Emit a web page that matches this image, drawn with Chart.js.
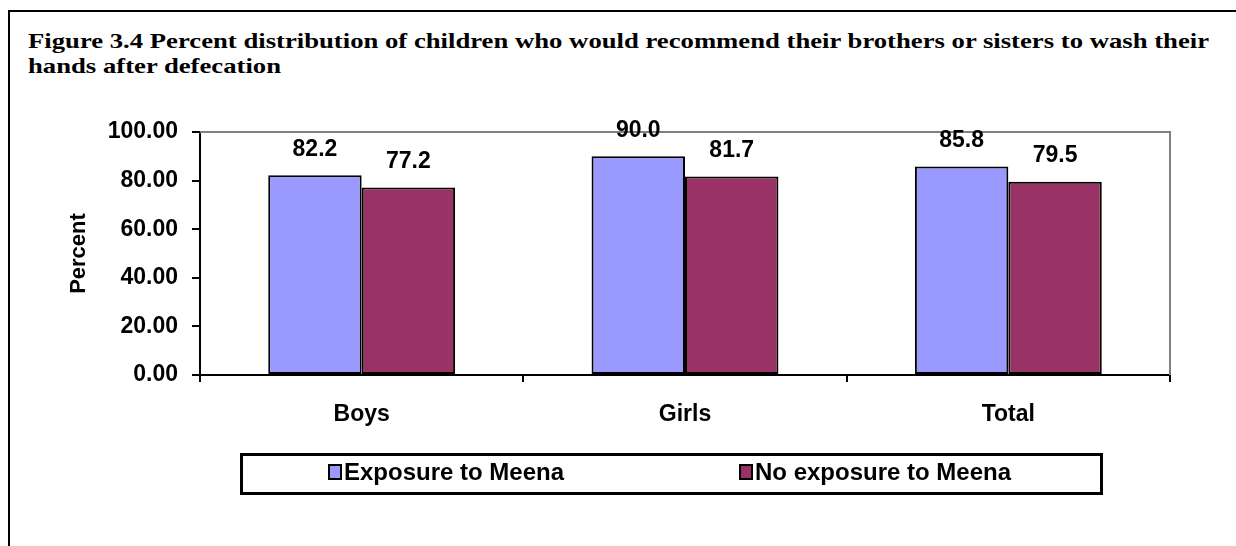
<!DOCTYPE html>
<html>
<head>
<meta charset="utf-8">
<script src="https://cdn.jsdelivr.net/npm/chart.js@4.4.1/dist/chart.umd.min.js"></script>
<style>
  html, body { margin: 0; padding: 0; background: #fff; }
  #wrap { position: relative; width: 1236px; height: 546px; overflow: hidden; }
  #frame { position: absolute; left: 8px; top: 10px; width: 1240px; height: 560px;
           border-left: 2px solid #000; border-top: 2px solid #000; }
  #title { position: absolute; left: 28px; top: 28px;
           font: bold 22px "Liberation Serif", "Times New Roman", serif; line-height: 25px; color: #000;
           white-space: nowrap; transform-origin: 0 0; }
  #myChart { position: absolute; left: 0; top: 0; }
</style>
</head>
<body>
<div id="wrap">
  <div id="frame"></div>
  <div id="title"><span id="t1">Figure 3.4 Percent distribution of children who would recommend their brothers or sisters to wash their</span><br>hands after defecation</div>
  <canvas id="myChart" width="1236" height="546"></canvas>
</div>
<script>
const categories = ['Boys', 'Girls', 'Total'];
const exposure = [82.2, 90.0, 85.8];
const noExposure = [77.2, 81.7, 79.5];
const yTicks = [0, 20, 40, 60, 80, 100];

// stretch the title to the width it has in the original figure
const t1 = document.getElementById('t1');
document.getElementById('title').style.transform = 'scaleX(' + (1181 / t1.getBoundingClientRect().width) + ')';

const sans = '"Liberation Sans", Arial, sans-serif';
const labelFont = 'bold 23px ' + sans;
const legendFont = 'bold 24px ' + sans;

// value labels above each bar
const valueLabels = {
  id: 'valueLabels',
  afterDatasetsDraw(chart) {
    const ctx = chart.ctx;
    ctx.save();
    ctx.font = labelFont;
    ctx.fillStyle = '#000';
    ctx.textAlign = 'center';
    ctx.textBaseline = 'middle';
    chart.data.datasets.forEach((ds, i) => {
      chart.getDatasetMeta(i).data.forEach((bar, j) => {
        ctx.fillText(ds.data[j].toFixed(1), bar.x, bar.y - 26);
      });
    });
    ctx.restore();
  }
};

// gray top/right edge of plot area + boxed legend
const extras = {
  id: 'extras',
  beforeDatasetsDraw(chart) {
    const {ctx, chartArea: a} = chart;
    ctx.save();
    ctx.strokeStyle = '#808080';
    ctx.lineWidth = 2;
    ctx.beginPath();
    ctx.moveTo(a.left, a.top);
    ctx.lineTo(a.right, a.top);
    ctx.lineTo(a.right, a.bottom);
    ctx.stroke();
    ctx.restore();
  },
  afterDraw(chart) {
    const ctx = chart.ctx;
    ctx.save();
    ctx.strokeStyle = '#000';
    ctx.lineWidth = 3;
    ctx.strokeRect(241.5, 454.5, 860, 39);
    const items = [[329, 0], [740, 1]];
    ctx.font = legendFont;
    ctx.textBaseline = 'middle';
    ctx.textAlign = 'left';
    items.forEach(([x, i]) => {
      const ds = chart.data.datasets[i];
      ctx.fillStyle = ds.backgroundColor;
      ctx.fillRect(x, 465, 12, 14);
      ctx.lineWidth = 2;
      ctx.strokeRect(x, 465, 12, 14);
      ctx.fillStyle = '#000';
      ctx.fillText(ds.label, x + 15, 473);
    });
    ctx.restore();
  }
};

const ctx = document.getElementById('myChart').getContext('2d');
const myChart = new Chart(ctx, {
  type: 'bar',
  data: {
    labels: categories,
    datasets: [{
      label: 'Exposure to Meena',
      data: exposure,
      backgroundColor: '#9999FF',
      borderColor: '#000',
      borderWidth: 2,
      borderSkipped: false
    }, {
      label: 'No exposure to Meena',
      data: noExposure,
      backgroundColor: '#993366',
      borderColor: '#000',
      borderWidth: 2,
      borderSkipped: false
    }]
  },
  options: {
    responsive: false,
    animation: false,
    datasets: { bar: { categoryPercentage: 0.578, barPercentage: 1 } },
    layout: { padding: { top: 132, right: 66, left: 0, bottom: 0 } },
    plugins: { legend: { display: false }, tooltip: { enabled: false } },
    scales: {
      x: {
        grid: { offset: true, drawOnChartArea: false, tickLength: 7, color: '#000', lineWidth: 2 },
        border: { color: '#000', width: 2 },
        ticks: { color: '#000', padding: 19, font: { family: sans, size: 23, weight: 'bold' } },
        afterFit(s) { s.height = 171; }
      },
      y: {
        min: 0,
        max: 100,
        afterBuildTicks(s) { s.ticks = yTicks.map(v => ({ value: v })); },
        grid: { drawOnChartArea: false, tickLength: 8, color: '#000', lineWidth: 2 },
        border: { color: '#000', width: 2 },
        ticks: {
          color: '#000', padding: 14,
          font: { family: sans, size: 23, weight: 'bold' },
          callback: v => v.toFixed(2)
        },
        title: {
          display: true, text: 'Percent', color: '#000',
          font: { family: sans, size: 22, weight: 'bold' },
          padding: { top: 66, bottom: 0 }
        },
        afterFit(s) { s.width = 200; }
      }
    }
  },
  plugins: [valueLabels, extras]
});
</script>
</body>
</html>
